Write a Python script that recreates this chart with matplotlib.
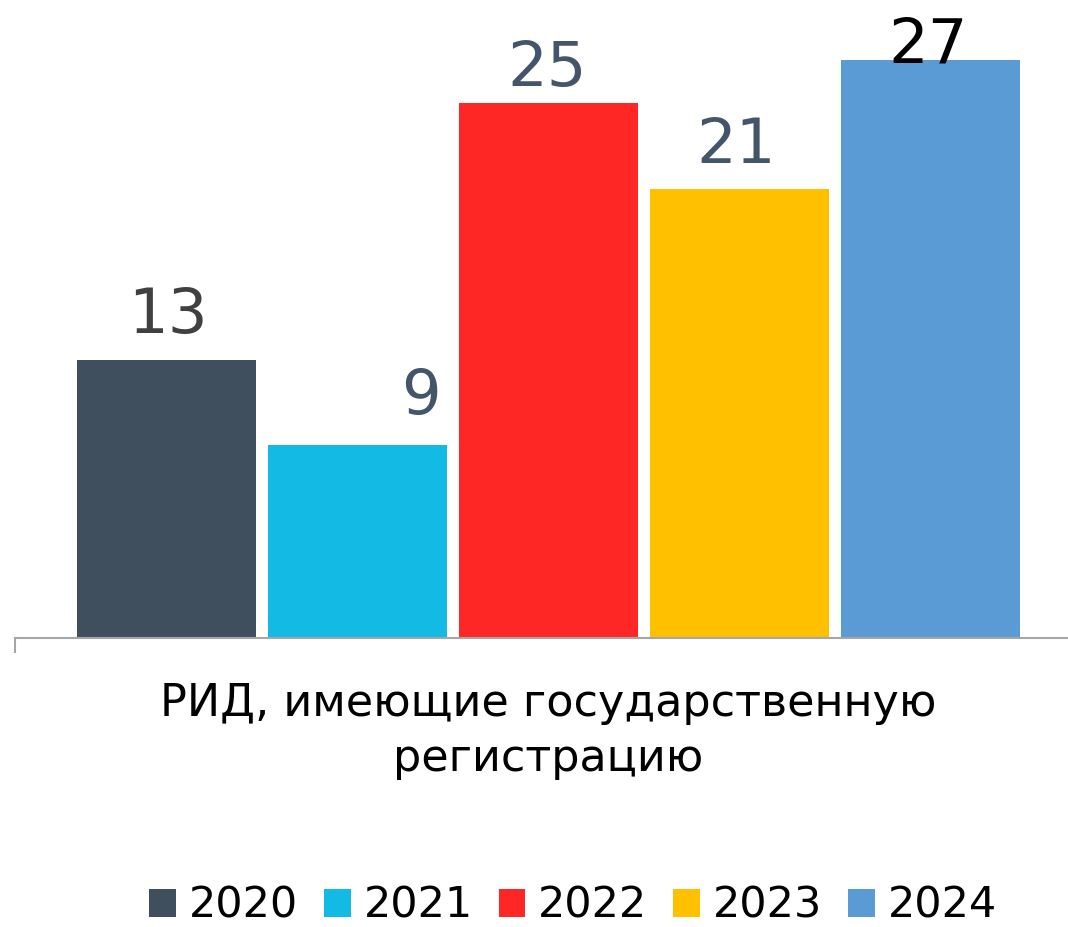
import matplotlib
matplotlib.use("Agg")
import matplotlib.pyplot as plt

years = ["2020", "2021", "2022", "2023", "2024"]
values = [13, 9, 25, 21, 27]
category = "РИД, имеющие государственную\nрегистрацию"

colors = ["#404F5E", "#12BAE4", "#FF2626", "#FFC000", "#5B9BD5"]
label_colors = ["#404040", "#44546A", "#44546A", "#44546A", "#000000"]
# label offsets from bar top (pixels): x, y
label_offsets = [(1, 27), (63, 31), (-1, 17), (-3, 26), (-2, -2)]

W, H = 1068, 927
fig = plt.figure(figsize=(W / 100, H / 100), dpi=100)
plt.rcParams["font.family"] = ["DejaVu Sans"]

# axes placed in pixel terms: baseline at y=638, left edge x=15
step = 191.0
c0 = 166.5
ax = fig.add_axes([15 / W, 1 - 638 / H, (W - 15) / W, 638 / H])
ax.set_xlim((15 - c0) / step, (W - c0) / step)
ax.set_ylim(0, 638 / 21.4)

x = list(range(len(years)))
bars = ax.bar(x, values, width=179 / step, color=colors, label=years)

for i, (v, off) in enumerate(zip(values, label_offsets)):
    ax.annotate(str(v), xy=(i, v), xytext=off, textcoords="offset pixels",
                ha="center", va="baseline", fontsize=45, color=label_colors[i])

for s in ["top", "right", "left"]:
    ax.spines[s].set_visible(False)
ax.spines["bottom"].set_color("#A6A6A6")
ax.spines["bottom"].set_linewidth(1.5)
ax.set_yticks([])
ax.set_xticks([])
# small tick at the left end of the axis
ax.plot([ax.get_xlim()[0]] * 2, [0, -15 / 21.4], color="#A6A6A6", lw=1.5,
        clip_on=False, solid_capstyle="butt")

fig.text(548 / W, 1 - 731 / H, category, ha="center", va="center",
         fontsize=32, linespacing=1.35, color="#000000")

fig.legend(handles=bars.patches, labels=years, loc="center",
           bbox_to_anchor=(573 / W, 1 - 906 / H), ncol=5, frameon=False,
           fontsize=31, handlelength=0.62, handleheight=0.62,
           handletextpad=0.3, columnspacing=0.6, borderaxespad=0)

fig.savefig("out.png", dpi=100)
